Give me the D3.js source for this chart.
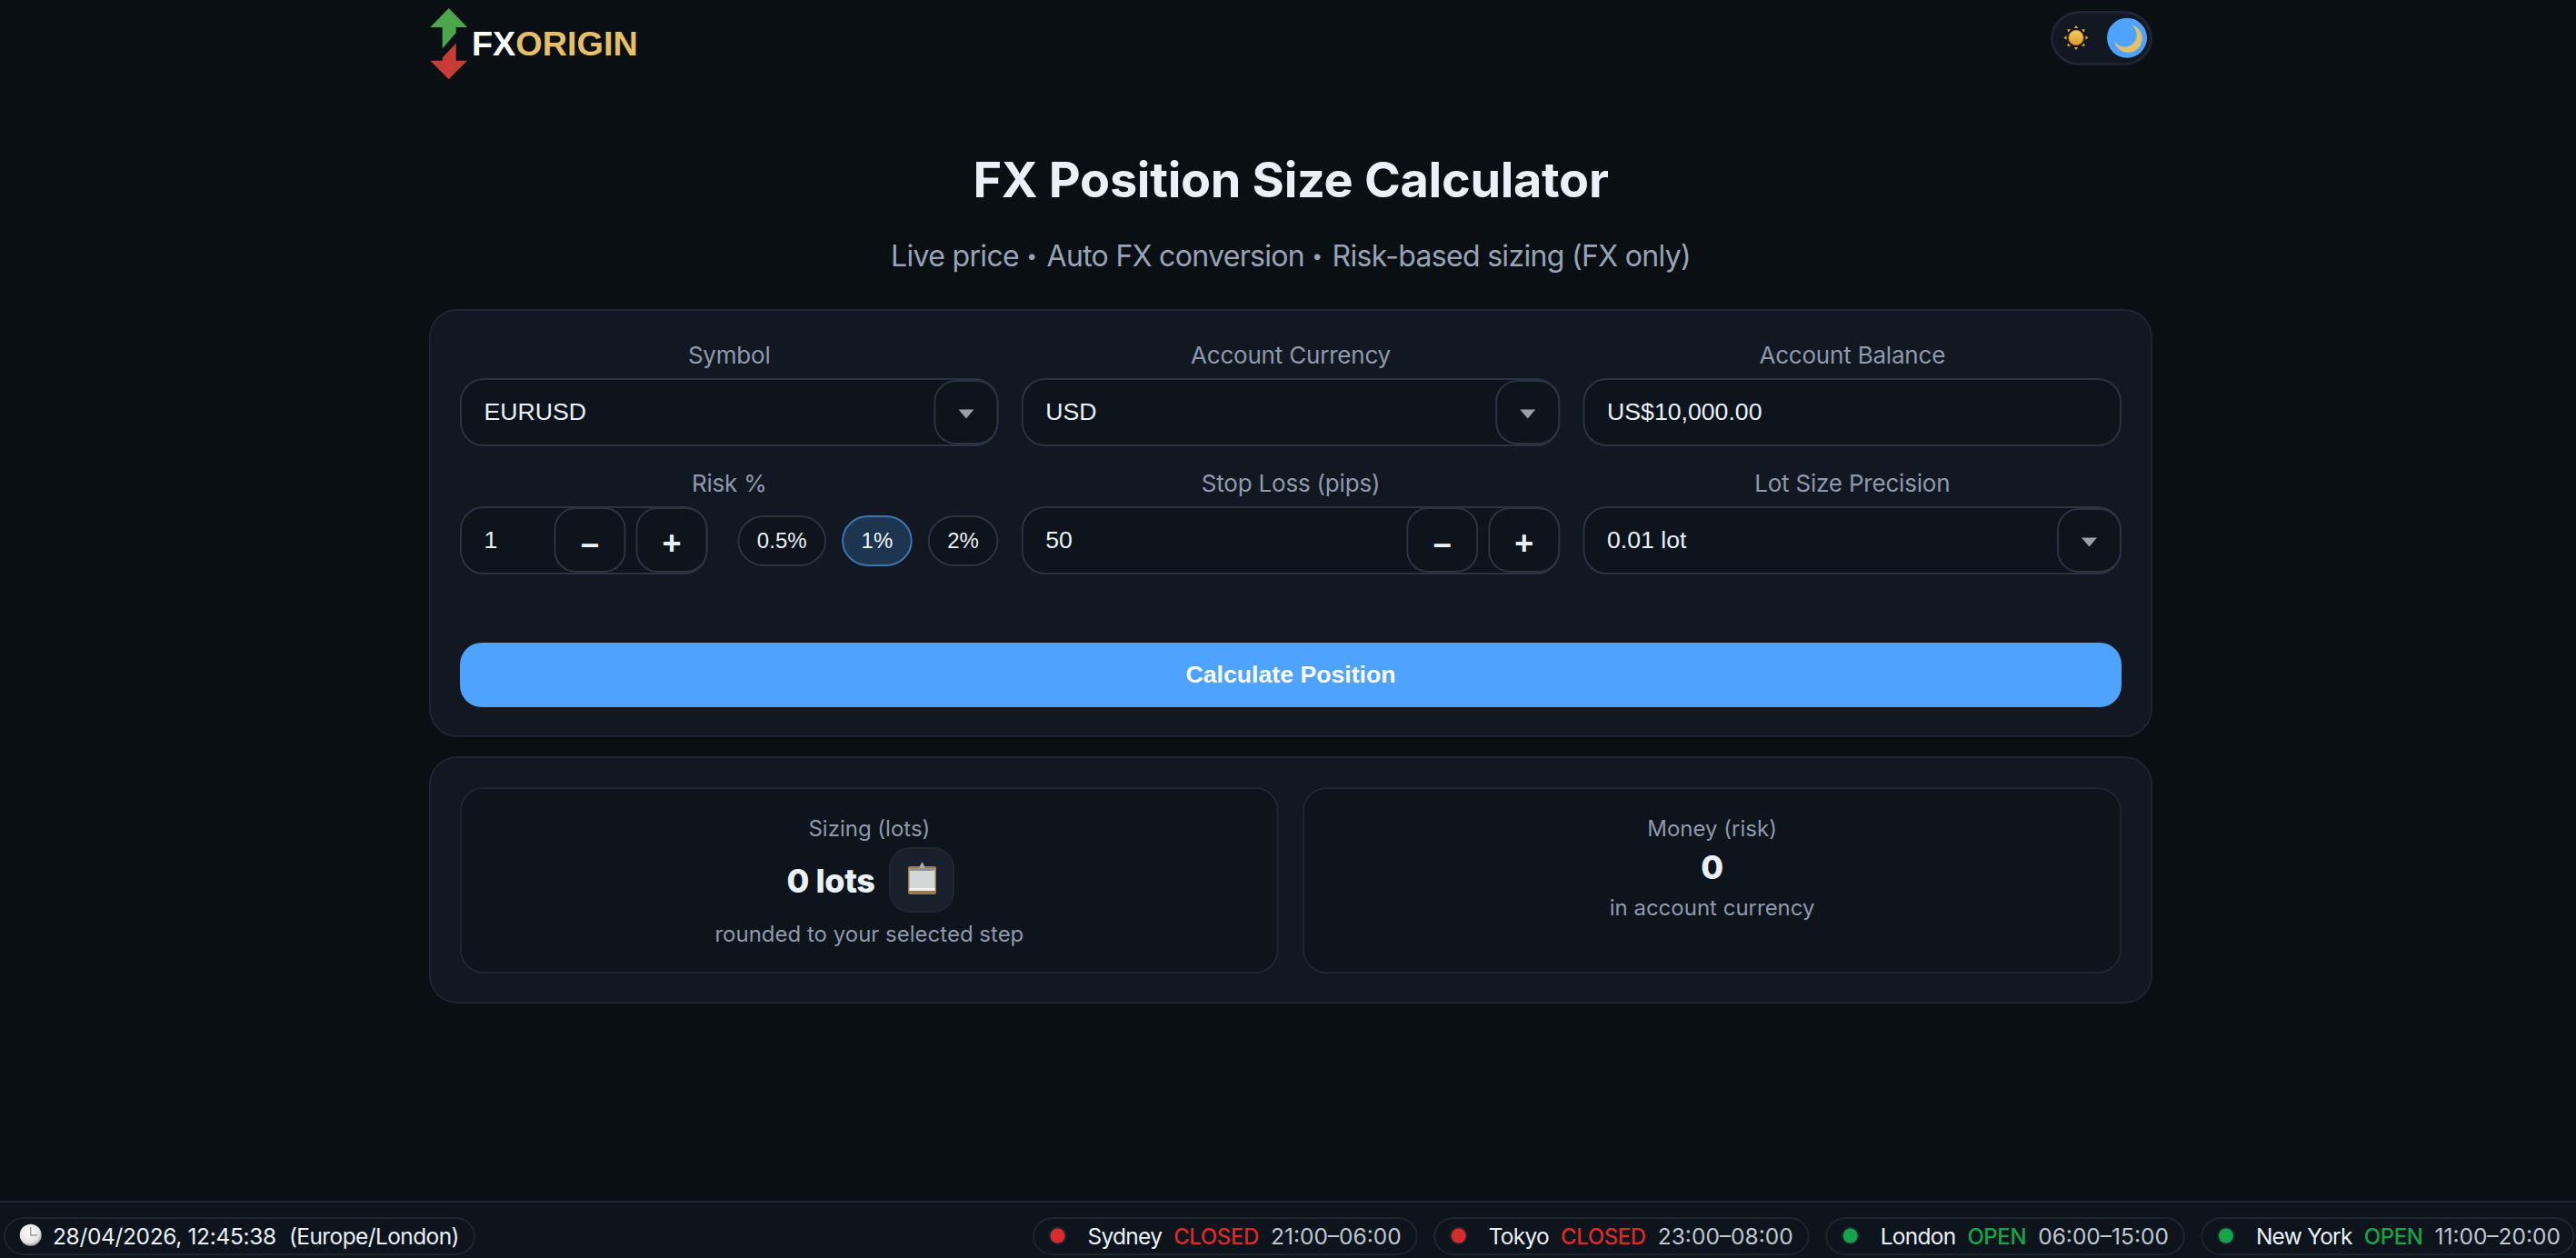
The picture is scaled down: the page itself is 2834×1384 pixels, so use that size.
<!DOCTYPE html>
<html>
<head>
<meta charset="utf-8">
<title>FX Position Size Calculator</title>
<script src="https://cdn.jsdelivr.net/npm/d3@7"></script>
<style>
    html, body { margin: 0; padding: 0; background: #0a0f14; overflow: hidden; }
    svg { display: block; }
    text { font-family: Inter, sans-serif; }
    .ctl { font-family: "Liberation Sans", Arial, sans-serif; }
</style>
</head>
<body>
<svg id="canvas"></svg>
<script>
const pageTitle = "FX Position Size Calculator";
const subtitleParts = ["Live price", "Auto FX conversion", "Risk-based sizing (FX only)"];
const logoWhite = "FX";
const logoGold = "ORIGIN";

const fieldLabels = ["Symbol", "Account Currency", "Account Balance", "Risk %", "Stop Loss (pips)", "Lot Size Precision"];
const fieldValues = ["EURUSD", "USD", "US$10,000.00", "1", "50", "0.01 lot"];
const fieldKinds = ["select", "select", "text", "risk", "stepper", "select"];
const riskChips = ["0.5%", "1%", "2%"];
const activeChip = "1%";
const calcLabel = "Calculate Position";

const resultTitles = ["Sizing (lots)", "Money (risk)"];
const resultValues = ["0 lots", "0"];
const resultNotes = ["rounded to your selected step", "in account currency"];

const clockText = "28/04/2026, 12:45:38";
const zoneText = "(Europe/London)";
const sessionNames = ["Sydney", "Tokyo", "London", "New York"];
const sessionStates = ["CLOSED", "CLOSED", "OPEN", "OPEN"];
const sessionHours = ["21:00–06:00", "23:00–08:00", "06:00–15:00", "11:00–20:00"];

const width = 2834;
const height = 1384;

const BG = "#0a0f14";
const CARD = "#111822";
const FIELD = "#0d141b";
const LINE = "#2a3342";
const SOFT = "#1d2532";
const BLUE = "#4da3ff";
const TEXT = "#eaf0f8";
const MUTED = "#8f99ac";
const RED = "#d92b2b";
const GREEN = "#16a34a";

const svg = d3.select("#canvas").attr("width", width).attr("height", height);

const defs = svg.append("defs");
const clockGrad = defs.append("radialGradient").attr("id", "clockGrad").attr("cx", "45%").attr("cy", "40%").attr("r", "65%");
clockGrad.append("stop").attr("offset", "0%").attr("stop-color", "#ffffff");
clockGrad.append("stop").attr("offset", "70%").attr("stop-color", "#e4e4e4");
clockGrad.append("stop").attr("offset", "100%").attr("stop-color", "#8d8d8d");
const sunGrad = defs.append("linearGradient").attr("id", "sunGrad").attr("x1", 0).attr("y1", 0).attr("x2", 0).attr("y2", 1);
sunGrad.append("stop").attr("offset", "0%").attr("stop-color", "#f2d060");
sunGrad.append("stop").attr("offset", "100%").attr("stop-color", "#d99a2b");

// outer edge measures include the stroke, so inset by half of it
const box = (parent, x, y, w, h, r, fill, stroke, sw = 2) => parent.append("rect")
    .attr("x", x + sw / 2).attr("y", y + sw / 2)
    .attr("width", w - sw).attr("height", h - sw)
    .attr("rx", r).attr("ry", r)
    .attr("fill", fill).attr("stroke", stroke).attr("stroke-width", sw);

const label = (parent, str, x, y, size, fill, anchor = "middle", weight = 400, cls = null) => parent.append("text")
    .attr("class", cls)
    .attr("x", x).attr("y", y)
    .attr("font-size", size).attr("font-weight", weight)
    .attr("fill", fill).attr("text-anchor", anchor)
    .text(str);

svg.append("rect").attr("width", width).attr("height", height).attr("fill", BG);

/* header */
const logo = svg.append("g");
logo.append("polygon").attr("fill", "#4ca64c")
    .attr("points", "493.7,9 514,30 501.7,30 501.7,36 486.7,53.5 486.7,30 473.3,30");
logo.append("polygon").attr("fill", "#c83c36")
    .attr("points", "501.7,47.5 501.7,66.7 514,66.7 493.7,87.3 473.3,66.7 486.7,66.7 486.7,63.5");
const logoText = logo.append("text").attr("class", "ctl")
    .attr("x", 519).attr("y", 61)
    .attr("font-size", 37.8).attr("font-weight", 700);
logoText.append("tspan").attr("fill", "#ffffff").text(logoWhite);
logoText.append("tspan").attr("fill", "#e5c068").text(logoGold);

const toggle = svg.append("g");
box(toggle, 2256, 12, 112, 60, 30, CARD, SOFT, 3);
const sun = toggle.append("g").attr("transform", "translate(2284,41.5)");
sun.selectAll("path").data(d3.range(8)).enter().append("path")
    .attr("d", "M-2.2,-10.5 L0,-13.5 L2.2,-10.5 Z")
    .attr("fill", "#e3a73a")
    .attr("transform", d => "rotate(" + d * 45 + ")");
sun.append("circle").attr("r", 8.2).attr("fill", "url(#sunGrad)").attr("stroke", "#b8772a").attr("stroke-width", 0.8);
toggle.append("circle").attr("cx", 2340).attr("cy", 41.7).attr("r", 22).attr("fill", BLUE);
toggle.append("path").attr("fill", "#e3c168")
    .attr("d", "M2345,27.3 A15.5,15.5 0 1 1 2326,45 A13.3,13.3 0 1 0 2345,27.3 Z");

label(svg, pageTitle, 1420, 217, 54, TEXT, "middle", 700).attr("letter-spacing", -0.3);

// the separators are smaller than the Inter bullet, so they get their own size
const subtitle = label(svg, "", 1420, 293, 32, "#98a3b6").attr("letter-spacing", -0.68);
subtitleParts.forEach((part, i) => {
    if (i > 0) {
        subtitle.append("tspan").attr("font-size", 21).attr("dy", -4).attr("letter-spacing", 2.3).text(" • ");
        subtitle.append("tspan").attr("dy", 4).text(part);
    } else {
        subtitle.append("tspan").text(part);
    }
});

/* calculator card */
box(svg, 472, 340, 1896, 471, 30, CARD, SOFT);

const colX = d3.scaleBand().domain(d3.range(3)).range([506, 2334]).paddingInner(0.041);
const rowY = d3.scaleOrdinal().domain([0, 1]).range([416, 557]);
const fieldH = 75;
const fieldR = 25;

const drawDropdown = (g, x, y, w) => {
    box(g, x + w - 71, y + 2, 71, fieldH - 4, fieldR - 2, FIELD, LINE);
    const cx = x + w - 35.5, cy = y + 34.5;
    g.append("path").attr("fill", "#9aa0a8")
        .attr("d", "M" + (cx - 8.5) + "," + cy + " h17 l-8.5,10 Z");
};

const drawStepper = (g, right, y) => {
    const pairs = [["–", right - 79 - 11 - 79], ["+", right - 79]];
    pairs.forEach(([sign, bx]) => {
        box(g, bx, y + 1, 79, fieldH - 3, fieldR - 2, FIELD, LINE);
        label(g, sign, bx + 39.5, y + 53, 36, TEXT, "middle", 700, "ctl");
    });
};

const drawChips = (g, right, y) => {
    const chipG = g.append("g");
    let cursor = right;
    riskChips.slice().reverse().forEach(chip => {
        const on = chip === activeChip;
        const t = label(chipG, chip, 0, y + 46, 24, on ? "#f2f6fb" : TEXT, "middle", 400, "ctl");
        const w = t.node().getComputedTextLength() + 43;
        t.attr("x", cursor - w / 2);
        box(chipG, cursor - w, y + 10, w, 56, 28, on ? "#1e3550" : FIELD, on ? "#3f74b0" : LINE).lower();
        cursor -= w + 17;
    });
};

fieldLabels.forEach((name, i) => {
    const col = i % 3, row = Math.floor(i / 3);
    const x = colX(col), y = rowY(row), w = colX.bandwidth();
    const g = svg.append("g");
    label(g, name, x + w / 2, y - 16.5, 26, MUTED).attr("letter-spacing", -0.2);
    const kind = fieldKinds[i];
    const inputW = kind === "risk" ? 272.5 : w;
    box(g, x, y, inputW, fieldH, fieldR, FIELD, LINE);
    label(g, fieldValues[i], x + 26.5, y + 45.5, 26.67, TEXT, "start", 400, "ctl");
    if (kind === "select") drawDropdown(g, x, y, w);
    if (kind === "stepper") drawStepper(g, x + w, y);
    if (kind === "risk") {
        drawStepper(g, x + inputW, y);
        drawChips(g, x + w, y);
    }
});

box(svg, 506, 707, 1828, 71, 24, BLUE, "none", 0);
label(svg, calcLabel, 1420, 751, 26.67, "#ffffff", "middle", 700, "ctl");

/* result card */
box(svg, 472, 832, 1896, 272, 30, CARD, SOFT);

const resX = d3.scaleBand().domain(d3.range(2)).range([506, 2334]).paddingInner(0.0285);

resultTitles.forEach((title, i) => {
    const x = resX(i), w = resX.bandwidth(), cx = x + w / 2;
    const g = svg.append("g");
    box(g, x, 866, w, 205, 25, FIELD, SOFT);
    label(g, title, cx, 919.5, 24, MUTED);
    if (i === 0) {
        label(g, resultValues[i], 914, 982, 36, TEXT, "middle", 800).attr("letter-spacing", -0.4);
        box(g, 978, 932, 72, 72, 22, "#18202b", SOFT);
        const clip = g.append("g").attr("transform", "translate(999,950)");
        clip.append("rect").attr("y", 3).attr("width", 31).attr("height", 31).attr("rx", 2).attr("fill", "#9b7a4d");
        clip.append("rect").attr("x", 1.5).attr("y", 5).attr("width", 28).attr("height", 25).attr("fill", "#d5d6d8");
        clip.append("rect").attr("x", 1.5).attr("y", 5).attr("width", 28).attr("height", 3).attr("fill", "#8f9092");
        clip.append("rect").attr("x", 1.5).attr("y", 27).attr("width", 28).attr("height", 3).attr("fill", "#eef0f2");
        clip.append("path").attr("d", "M15.5,-2 L19,5 H12 Z").attr("fill", "#a9abae");
        label(g, resultNotes[i], cx, 1035.5, 24, MUTED);
    } else {
        label(g, resultValues[i], cx, 967, 36, TEXT, "middle", 800);
        label(g, resultNotes[i], cx, 1006.5, 24, MUTED);
    }
});

/* status bar */
svg.append("rect").attr("y", 1322).attr("width", width).attr("height", height - 1322).attr("fill", FIELD);
svg.append("rect").attr("y", 1321).attr("width", width).attr("height", 2).attr("fill", "#1f2836");

const pillTop = 1339, pillH = 42, textY = 1369;
const clockG = svg.append("g");
box(clockG, 4, pillTop, 519, pillH, 21, FIELD, SOFT);
clockG.append("circle").attr("cx", 33.7).attr("cy", 1358.7).attr("r", 12).attr("fill", "url(#clockGrad)");
clockG.append("path").attr("d", "M33.7,1350 V1359 H41").attr("fill", "none").attr("stroke", "#9c9c9c").attr("stroke-width", 1.4);
label(clockG, clockText, 58, textY, 24.5, TEXT, "start").attr("letter-spacing", -0.35);
label(clockG, zoneText, 318, textY, 24.5, TEXT, "start").attr("letter-spacing", -0.6);

// sessions sit right aligned, each pill as wide as its texts
let pillRight = 2832.5;
d3.range(sessionNames.length).reverse().forEach(i => {
    const g = svg.append("g");
    const stateColor = sessionStates[i] === "OPEN" ? GREEN : RED;
    const nameT = label(g, sessionNames[i], 0, textY, 24.5, TEXT, "start").attr("letter-spacing", -0.75);
    const stateT = label(g, sessionStates[i], 0, textY, 24, stateColor, "start", 500).attr("letter-spacing", -0.4);
    const hourT = label(g, sessionHours[i], 0, textY, 24.5, "#bfc7d3", "start");
    const nameW = nameT.node().getComputedTextLength();
    const stateW = stateT.node().getComputedTextLength();
    const hourW = hourT.node().getComputedTextLength();
    const right = pillRight;
    // last pill is squeezed against the window edge
    const hourX = right - (i === sessionNames.length - 1 ? 15.5 : 18) - hourW;
    const stateX = hourX - 13 - stateW;
    const nameX = stateX - 13 - nameW;
    const dotX = nameX - 33;
    const left = dotX - 27.5;
    hourT.attr("x", hourX);
    stateT.attr("x", stateX);
    nameT.attr("x", nameX);
    g.append("circle").attr("cx", dotX).attr("cy", 1359.5).attr("r", 10).attr("fill", SOFT);
    g.append("circle").attr("cx", dotX).attr("cy", 1359.5).attr("r", 8).attr("fill", stateColor);
    box(g, left, pillTop, right - left, pillH, 21, FIELD, SOFT).lower();
    pillRight = left - 17.5;
});
</script>
</body>
</html>
